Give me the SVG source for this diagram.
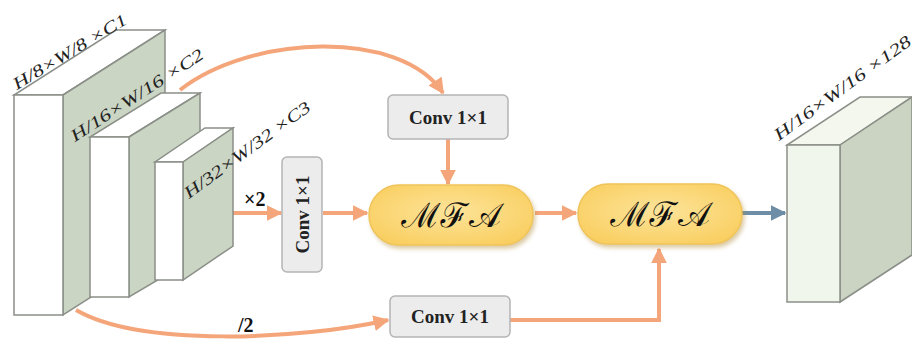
<svg xmlns="http://www.w3.org/2000/svg" width="912" height="345" viewBox="0 0 912 345">
<defs>
<style>
.front{fill:#ffffff;stroke:#8a8f88;stroke-width:1.5}
.top{fill:#ffffff;stroke:#8a8f88;stroke-width:1.5}
.side{fill:#cbd5c4;stroke:#8a8f88;stroke-width:1.5}
.dim{font-family:"Liberation Serif",serif;font-style:italic;font-size:17px;fill:#222}
.conv{fill:#ececec;stroke:#b4b4b4;stroke-width:1.5}
.convt{font-family:"Liberation Serif",serif;font-weight:bold;font-size:19px;fill:#222}
.mfa{fill:url(#mfag);stroke:#f0c45a;stroke-width:1.5;filter:url(#sh)}
.mfat{font-family:"DejaVu Serif","Noto Sans",serif;font-size:34px;fill:#111}
.lbl{font-family:"Liberation Serif",serif;font-weight:bold;font-size:20px;fill:#111}
.oa{fill:none;stroke:#f4a57a;stroke-width:4;marker-end:url(#ah)}
.ba{fill:none;stroke:#6d8ea6;stroke-width:4;marker-end:url(#bh)}
</style>
<radialGradient id="mfag" cx="50%" cy="45%" r="60%">
<stop offset="0" stop-color="#fde49a"/>
<stop offset="1" stop-color="#f9cf62"/>
</radialGradient>
<filter id="sh" x="-10%" y="-20%" width="125%" height="150%">
<feDropShadow dx="2" dy="3" stdDeviation="2" flood-color="#b08a30" flood-opacity="0.45"/>
</filter>
<marker id="ah" viewBox="0 0 10 10" refX="9" refY="5" markerWidth="4" markerHeight="4" orient="auto" markerUnits="strokeWidth">
<path d="M0,0 L10,5 L0,10 Z" fill="#f4a57a"/>
</marker>
<marker id="bh" viewBox="0 0 10 10" refX="9" refY="5" markerWidth="4" markerHeight="4" orient="auto" markerUnits="strokeWidth">
<path d="M0,0 L10,5 L0,10 Z" fill="#6d8ea6"/>
</marker>
</defs>
<rect width="912" height="345" fill="#ffffff"/>

<g id="connectors">
<path class="oa" d="M180,90 C250,35 400,28 443,93"/>
<path class="oa" d="M448,139 L448,184"/>
<path class="oa" d="M233,213 L281,213"/>
<path class="oa" d="M323,213 L367,213"/>
<path class="oa" d="M535,213 L576,213"/>
<path class="oa" d="M76,310 C140,347 300,340 388,320"/>
<path class="oa" d="M510,320 L659,320 L659,249"/>
<path class="ba" d="M742,213 L785,213"/>
</g>

<g id="fm1">
<polygon class="top" points="14,95 63,95 165,30 116,30"/>
<polygon class="side" points="63,95 165,30 165,250 63,315"/>
<rect class="front" x="14" y="95" width="49" height="220"/>
<text class="dim" transform="translate(17,90) rotate(-31)" textLength="130" lengthAdjust="spacingAndGlyphs">H/8×W/8 ×C1</text>
</g>

<g id="fm2">
<polygon class="top" points="90,137 129,137 200,93 161,93"/>
<polygon class="side" points="129,137 200,93 200,255 129,297"/>
<rect class="front" x="90" y="137" width="39" height="160"/>
<text class="dim" transform="translate(75,142) rotate(-33)" textLength="155" lengthAdjust="spacingAndGlyphs">H/16×W/16 ×C2</text>
</g>

<g id="fm3">
<polygon class="top" points="155,162 183,162 233,128 205,128"/>
<polygon class="side" points="183,162 233,128 233,246 183,280"/>
<rect class="front" x="155" y="162" width="28" height="118"/>
<text class="dim" transform="translate(189,199) rotate(-36)" textLength="152" lengthAdjust="spacingAndGlyphs">H/32×W/32 ×C3</text>
</g>

<g id="lbl-x2"><text class="lbl" x="244" y="206">×2</text></g>
<g id="lbl-d2"><text class="lbl" x="238" y="332">/2</text></g>

<g id="conv-v">
<rect class="conv" x="282" y="157" width="40" height="115" rx="5"/>
<text class="convt" transform="translate(309,214.5) rotate(-90)" text-anchor="middle">Conv 1×1</text>
</g>

<g id="conv-top">
<rect class="conv" x="388" y="95" width="120" height="44" rx="5"/>
<text class="convt" x="448" y="124" text-anchor="middle">Conv 1×1</text>
</g>

<g id="conv-bot">
<rect class="conv" x="390" y="296" width="120" height="41" rx="5"/>
<text class="convt" x="450" y="323" text-anchor="middle">Conv 1×1</text>
</g>

<g id="mfa1">
<rect class="mfa" x="369" y="185" width="164" height="60" rx="30"/>
<text class="mfat" x="451" y="227" text-anchor="middle">ℳℱ𝒜</text>
</g>

<g id="mfa2">
<rect class="mfa" x="578" y="184" width="164" height="60" rx="30"/>
<text class="mfat" x="660" y="226" text-anchor="middle">ℳℱ𝒜</text>
</g>

<g id="out">
<polygon points="787,145 840,145 912,97 860,97" fill="#f3f7ee" stroke="#8a8f88" stroke-width="1.5"/>
<polygon points="840,145 912,97 912,255 840,302" fill="#cbd3c3" stroke="#8a8f88" stroke-width="1.5"/>
<rect x="787" y="145" width="53" height="157" fill="#f1f6ec" stroke="#8a8f88" stroke-width="1.5"/>
<text class="dim" transform="translate(779,141) rotate(-36)" textLength="165" lengthAdjust="spacingAndGlyphs">H/16×W/16 ×128</text>
</g>
</svg>
